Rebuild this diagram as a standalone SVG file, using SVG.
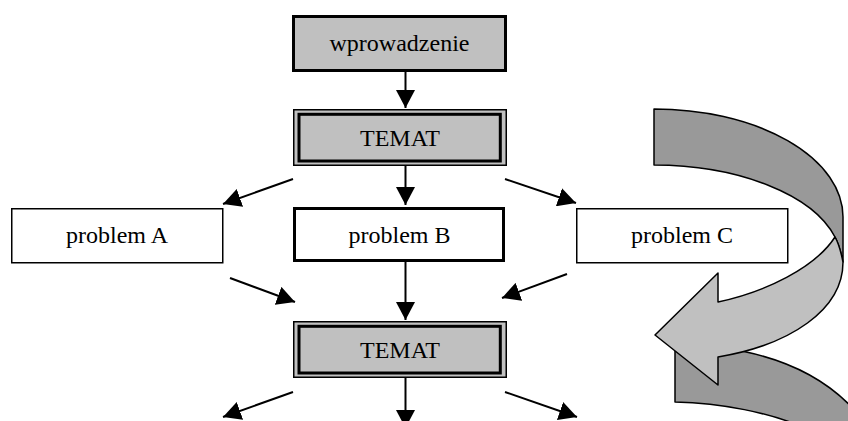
<svg xmlns="http://www.w3.org/2000/svg" width="848" height="421" viewBox="0 0 848 421">
<style>
.t{font-family:"Liberation Serif","Times New Roman",serif;font-size:24px;fill:#000;text-anchor:middle}
.thick{fill:#fff;stroke:#000;stroke-width:3}
.thin{fill:#fff;stroke:#000;stroke-width:1.5}
.gray{fill:#c0c0c0}
.conn line{stroke:#000;stroke-width:2;marker-end:url(#ah)}
.band{stroke:#000;stroke-width:1.5;stroke-linejoin:round}
</style>
<defs>
<marker id="ah" markerUnits="userSpaceOnUse" markerWidth="18" markerHeight="19" refX="18" refY="9.5" orient="auto">
<path d="M0,0 L18,9.5 L0,19 z" fill="#000"/>
</marker>
</defs>
<rect width="848" height="421" fill="#fff"/>

<g id="curved-arrows">
<path class="band" fill="#999999" d="M675,344 C760,346 830,370 870,430 L810,430 C770,412 720,403 675,402 Z"/>
<path class="band" fill="#999999" d="M654,109 A189,108 0 0 1 843,217 L843,262 C841,252 839,244 835,237 A188,97 0 0 0 654,165 Z"/>
<path class="band" fill="#c0c0c0" d="M718,302 C765,292 815,268 835,237 C839,244 841,252 843,262 C843,310 790,345 718,357 L718,385 L655,335 L718,273 Z"/>
</g>

<g id="wprowadzenie">
<rect class="thick gray" x="293.5" y="16.5" width="212" height="54" style="fill:#c0c0c0"/>
<text class="t" x="399.5" y="51">wprowadzenie</text>
</g>

<g id="temat1">
<rect x="293.75" y="109.75" width="212.5" height="55.5" fill="#c0c0c0" stroke="#000" stroke-width="1.5"/>
<rect x="299" y="114.3" width="201.3" height="46.7" fill="none" stroke="#000" stroke-width="3"/>
<text class="t" x="400" y="146">TEMAT</text>
</g>

<g id="problemA">
<rect class="thin" x="11.75" y="208.75" width="211" height="54"/>
<text class="t" x="117" y="242.5">problem A</text>
</g>

<g id="problemB">
<rect class="thick" x="294.5" y="208.5" width="209" height="52"/>
<text class="t" x="399.5" y="242.5">problem B</text>
</g>

<g id="problemC">
<rect class="thin" x="576.75" y="208.75" width="211" height="54"/>
<text class="t" x="682" y="242.5">problem C</text>
</g>

<g id="temat2">
<rect x="293.75" y="321.75" width="212.5" height="55.5" fill="#c0c0c0" stroke="#000" stroke-width="1.5"/>
<rect x="299" y="326.3" width="201.3" height="46.7" fill="none" stroke="#000" stroke-width="3"/>
<text class="t" x="400" y="358">TEMAT</text>
</g>

<g id="connectors" class="conn">
<line x1="405.5" y1="72" x2="405.5" y2="108"/>
<line x1="405.5" y1="166" x2="405.5" y2="205"/>
<line x1="293" y1="179" x2="223" y2="204"/>
<line x1="505" y1="179" x2="576" y2="203"/>
<line x1="405.5" y1="262" x2="405.5" y2="320"/>
<line x1="230" y1="278" x2="295" y2="302"/>
<line x1="567" y1="274" x2="502" y2="298"/>
<line x1="405.5" y1="378" x2="405.5" y2="428"/>
<line x1="293" y1="392" x2="223" y2="417"/>
<line x1="505" y1="392" x2="577" y2="417"/>
</g>
</svg>
